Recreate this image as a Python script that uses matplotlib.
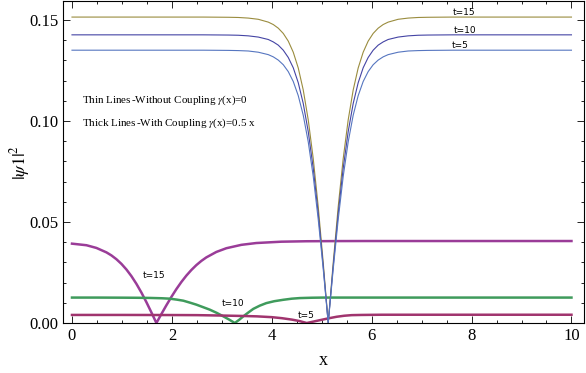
import matplotlib
matplotlib.use("Agg")
import matplotlib.pyplot as plt
from matplotlib.ticker import MultipleLocator, FormatStrFormatter

plt.rcParams['font.family'] = ['Liberation Serif', 'DejaVu Serif']
plt.rcParams['mathtext.fontset'] = 'stix'

# thin lines: without coupling (shared x grid)
x_thin = [0, 2.63, 3.13, 3.33, 3.53, 3.73, 3.93, 4.03, 4.13, 4.23, 4.33, 4.43, 4.53, 4.63,
          4.73, 4.83, 4.93, 5.03, 5.13,
          5.23, 5.33, 5.43, 5.53, 5.63, 5.73, 5.83, 5.93, 6.03, 6.13, 6.23, 6.33, 6.53,
          6.73, 6.93, 7.13, 7.63, 10]
thin_t15 = [0.1515, 0.1515, 0.1514, 0.1513, 0.1510, 0.1504, 0.1490, 0.1478, 0.1460, 0.1434,
            0.1396, 0.1341, 0.1263, 0.1154, 0.1006, 0.0814, 0.0576, 0.0299, 0.0,
            0.0299, 0.0576, 0.0814, 0.1006, 0.1154, 0.1263, 0.1341, 0.1396, 0.1434, 0.1460,
            0.1478, 0.1490, 0.1504, 0.1510, 0.1513, 0.1514, 0.1515, 0.1515]
thin_t10 = [0.1427, 0.1427, 0.1426, 0.1425, 0.1422, 0.1416, 0.1404, 0.1392, 0.1376, 0.1351,
            0.1315, 0.1264, 0.1190, 0.1087, 0.0948, 0.0766, 0.0542, 0.0282, 0.0,
            0.0282, 0.0542, 0.0766, 0.0948, 0.1087, 0.1190, 0.1264, 0.1315, 0.1351, 0.1376,
            0.1392, 0.1404, 0.1416, 0.1422, 0.1425, 0.1426, 0.1427, 0.1427]
thin_t5 = [0.1351, 0.1351, 0.1350, 0.1349, 0.1347, 0.1341, 0.1329, 0.1318, 0.1302, 0.1279,
           0.1245, 0.1196, 0.1126, 0.1029, 0.0897, 0.0726, 0.0513, 0.0267, 0.0,
           0.0267, 0.0513, 0.0726, 0.0897, 0.1029, 0.1126, 0.1196, 0.1245, 0.1279, 0.1302,
           0.1318, 0.1329, 0.1341, 0.1347, 0.1349, 0.1350, 0.1351, 0.1351]

# thick lines: with coupling
x_t15 = [0, 0.29, 0.49, 0.69, 0.79, 0.89, 0.99, 1.09, 1.19, 1.29, 1.39, 1.49, 1.59, 1.69,
         1.79, 1.89, 1.99, 2.09, 2.19, 2.29, 2.39, 2.49, 2.59, 2.69, 2.89, 3.09, 3.39, 3.69,
         4.19, 4.69, 5.29, 5.89, 10]
y_t15 = [0.0393, 0.03852, 0.03717, 0.03498, 0.03347, 0.03158, 0.02928, 0.02650, 0.02321,
         0.01939, 0.01508, 0.01032, 0.00525, 0.0, 0.00445, 0.00879, 0.01293, 0.01679,
         0.02032, 0.02348, 0.02626, 0.02868, 0.03075, 0.03250, 0.03519, 0.03703, 0.03871,
         0.03961, 0.04027, 0.04049, 0.04057, 0.0406, 0.0406]

x_t10 = [0, 0.5, 1.0, 1.3, 1.56, 1.8, 1.96, 2.1, 2.23, 2.36, 2.49, 2.62, 2.76, 2.9, 3.03,
         3.15, 3.26, 3.35, 3.43, 3.53, 3.63, 3.76, 3.89, 4.05, 4.23, 4.4, 4.56, 4.8, 5.03,
         5.5, 6, 10]
y_t10 = [0.0126, 0.0126, 0.01255, 0.0125, 0.01242, 0.01226, 0.01205, 0.01158, 0.01105,
         0.0101, 0.0091, 0.0079, 0.0066, 0.005, 0.0033, 0.00165, 0.0, 0.00165, 0.0033,
         0.0052, 0.007, 0.0086, 0.00985, 0.0108, 0.0115, 0.01205, 0.01235, 0.01252,
         0.0126, 0.0126, 0.0126, 0.0126]

x_t5 = [0, 1, 2, 2.5, 3.0, 3.4, 3.7, 4.0, 4.2, 4.4, 4.55, 4.7, 4.85, 5.0, 5.13, 5.3, 5.45,
        5.6, 5.8, 6.2, 10]
y_t5 = [0.0040, 0.0040, 0.00395, 0.0039, 0.0037, 0.0035, 0.0033, 0.0029, 0.0024, 0.0017,
        0.0010, 0.0, 0.0008, 0.0016, 0.0023, 0.0031, 0.0036, 0.0039, 0.0040, 0.0041, 0.0041]

fig = plt.figure(figsize=(5.86, 3.73), dpi=100)
ax = fig.add_axes([0.1075, 0.134, 0.889, 0.863])

ax.plot(x_t15, y_t15, color='#9a3c98', lw=1.8)
ax.plot(x_t10, y_t10, color='#3f9b5c', lw=1.8)
ax.plot(x_t5, y_t5, color='#a0346e', lw=1.8)

ax.plot(x_thin, thin_t15, color='#9a8c3e', lw=0.8)
ax.plot(x_thin, thin_t10, color='#4444a4', lw=0.8)
ax.plot(x_thin, thin_t5, color='#5676c0', lw=0.8)

# curve labels
lab = dict(fontsize=6.5, family='DejaVu Sans', ha='center', va='center')
ax.text(7.84, 0.1540, 't=15', **lab)
ax.text(7.86, 0.1450, 't=10', **lab)
ax.text(7.78, 0.1376, 't=5', **lab)
ax.text(1.64, 0.0233, 't=15', **lab)
ax.text(3.22, 0.0099, 't=10', **lab)
ax.text(4.68, 0.0035, 't=5', **lab)

ax.text(0.2, 0.1104, r'Thin Lines$\,$-Without Coupling $\gamma$(x)=0', fontsize=7.9, va='center')
ax.text(0.2, 0.0990, r'Thick Lines$\,$-With Coupling $\gamma$(x)=0.5 x', fontsize=7.9, va='center')

ax.set_xlim(-0.18, 10.25)
ax.set_ylim(0, 0.1594)
ax.xaxis.set_major_locator(MultipleLocator(2))
ax.xaxis.set_minor_locator(MultipleLocator(0.5))
ax.yaxis.set_major_locator(MultipleLocator(0.05))
ax.yaxis.set_minor_locator(MultipleLocator(0.01))
ax.yaxis.set_major_formatter(FormatStrFormatter('%.2f'))
ax.tick_params(which='both', direction='in', top=True, right=True, width=0.6, labelsize=12)
ax.tick_params(which='major', length=5)
ax.tick_params(which='minor', length=2.5)
for s in ax.spines.values():
    s.set_linewidth(0.8)

ax.set_xlabel('x', fontsize=13, labelpad=6)
ax.set_ylabel(r'$|\psi 1|^2$', fontsize=13, labelpad=-2)

fig.savefig('out.png', dpi=100)
